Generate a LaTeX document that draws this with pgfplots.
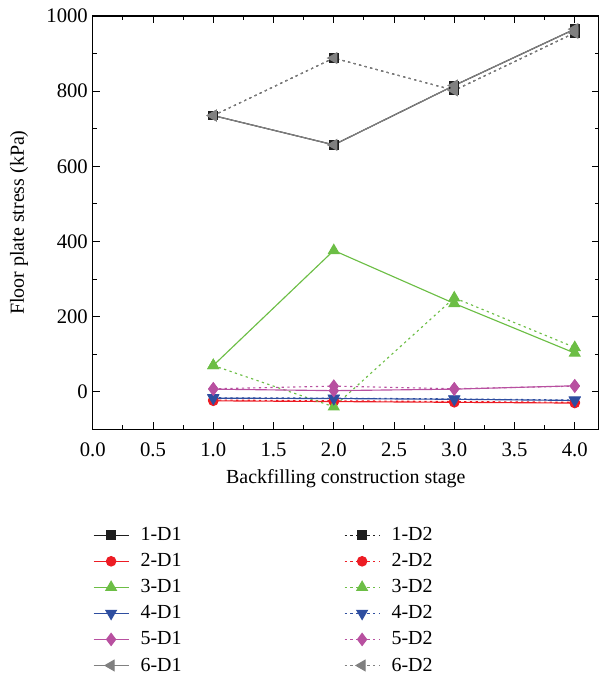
\documentclass[border=0pt]{standalone}
\usepackage{fontspec}
\setmainfont{Liberation Serif}
\usepackage{pgfplots}
\pgfplotsset{compat=1.18}

\definecolor{cBlack}{RGB}{30,30,30}
\definecolor{cRed}{RGB}{237,28,36}
\definecolor{cGreen}{RGB}{108,190,69}
\definecolor{cBlue}{RGB}{46,78,160}
\definecolor{cMag}{RGB}{184,80,160}
\definecolor{cGray}{RGB}{128,128,128}

\tikzset{dd/.style={dash pattern=on 1.6pt off 2.4pt}}

\begin{document}
\begin{tikzpicture}
\begin{axis}[
    name=ax,
    scale only axis,
    width=355pt, height=290pt,
    xmin=0, xmax=4.2, ymin=-100, ymax=1000,
    xtick={0,0.5,...,4.0}, ytick={0,200,...,1000},
    minor x tick num=1, minor y tick num=1,
    tick align=inside,
    major tick length=5pt, minor tick length=3pt,
    axis line style={line width=0.8pt},
    tick style={line width=0.7pt, black},
    xticklabel style={yshift=-6pt,/pgf/number format/.cd,fixed,fixed zerofill,precision=1},
    yticklabel style={/pgf/number format/.cd,fixed,precision=0,1000 sep={}},
    /pgf/number format/assume math mode=true,
    tick label style={font=\fontsize{14.5}{16}\selectfont},
    label style={font=\fontsize{14}{16}\selectfont},
    xlabel={Backfilling construction stage},
    ylabel={Floor plate stress (kPa)},
    xlabel style={yshift=-2pt},
    ylabel style={yshift=6pt},
    legend columns=2,
    legend cell align=left,
    legend style={draw=none, at={(0,-0.23)}, anchor=north west, inner sep=0pt,
        font=\fontsize{14}{16}\selectfont,
        row sep=3.5pt,
        /tikz/every odd column/.append style={column sep=6pt},
        /tikz/every even column/.append style={column sep=112pt}},
    legend image code/.code={\draw[mark repeat=2,mark phase=2,#1]
        plot coordinates {(0pt,0pt)(12.25pt,0pt)(24.5pt,0pt)};},
    every axis plot/.append style={line width=0.8pt},
]
% 1
\addplot[color=cBlack, mark=square*, mark size=3pt] coordinates {(1,735)(2,657)(3,815)(4,965)};
\addplot[color=cBlack, dd, mark=square*, mark size=3pt, mark options={solid}] coordinates {(1,735)(2,888)(3,802)(4,955)};
% 2
\addplot[color=cRed, mark=*, mark size=3.3pt] coordinates {(1,-24)(2,-26)(3,-28)(4,-30)};
\addplot[color=cRed, dd, mark=*, mark size=3.3pt, mark options={solid}] coordinates {(1,-22)(2,-24)(3,-26)(4,-28)};
% 3
\addplot[color=cGreen, mark=triangle*, mark size=4.2pt] coordinates {(1,70)(2,376)(3,235)(4,103)};
\addplot[color=cGreen, dd, mark=triangle*, mark size=4.2pt, mark options={solid}] coordinates {(1,70)(2,-40)(3,250)(4,118)};
% 4
\addplot[color=cBlue, mark=triangle*, mark size=4.2pt, mark options={rotate=180}] coordinates {(1,-17)(2,-18)(3,-20)(4,-23)};
\addplot[color=cBlue, dd, mark=triangle*, mark size=4.2pt, mark options={solid,rotate=180}] coordinates {(1,-16)(2,-17)(3,-19)(4,-22)};
% 5
\addplot[color=cMag, mark=diamond*, mark size=4.2pt] coordinates {(1,7)(2,3)(3,7)(4,16)};
\addplot[color=cMag, dd, mark=diamond*, mark size=4.2pt, mark options={solid}] coordinates {(1,8)(2,15)(3,8)(4,15)};
% 6
\addplot[color=cGray, mark=triangle*, mark size=4.2pt, mark options={rotate=90}] coordinates {(1,735)(2,657)(3,815)(4,965)};
\addplot[color=cGray, dd, mark=triangle*, mark size=4.2pt, mark options={solid,rotate=90}] coordinates {(1,735)(2,888)(3,802)(4,955)};
\legend{1-D1,1-D2,2-D1,2-D2,3-D1,3-D2,4-D1,4-D2,5-D1,5-D2,6-D1,6-D2}
\end{axis}
\path ([shift={(-65.1pt,-172.2pt)}]ax.south west) ([shift={(0pt,11.2pt)}]ax.north east);
\end{tikzpicture}
\end{document}
